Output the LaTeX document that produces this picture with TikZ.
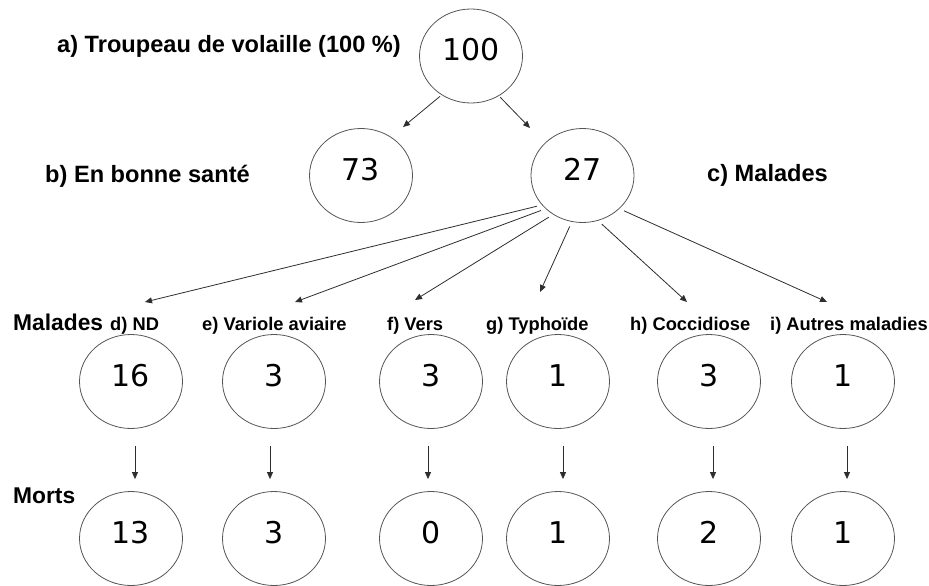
\documentclass[tikz,border=0pt]{standalone}
\usepackage{fontspec}
\setmainfont{Liberation Sans}
\newfontfamily\numfont{DejaVu Sans}
\usetikzlibrary{shapes.geometric, arrows.meta}
\definecolor{ringgray}{RGB}{85,85,85}
\definecolor{arrowgray}{RGB}{45,45,45}

\begin{document}
\begin{tikzpicture}[x=1pt, y=-1pt,
  ring/.style={draw=ringgray, ellipse, line width=0.8pt, minimum width=103pt, minimum height=94pt,
    inner sep=0pt, font=\numfont\fontsize{30}{30}\selectfont, text height=21pt, text depth=12pt},
  bigtxt/.style={anchor=base west, inner sep=0pt, font=\bfseries\fontsize{23.6}{26}\selectfont},
  rowtxt/.style={anchor=base west, inner sep=0pt, font=\bfseries\fontsize{22.8}{26}\selectfont},
  smalltxt/.style={anchor=base west, inner sep=0pt, font=\bfseries\fontsize{18.3}{21}\selectfont},
  arr/.style={draw=arrowgray, line width=0.8pt, -{Triangle[length=7pt, width=6pt]}}]
\useasboundingbox (0,0) rectangle (929,586);

% flock, healthy, sick
\node[ring] (c100) at (471,56) {100};
\node[ring] (c73) at (361,175.5) {73};
\node[ring] (c27) at (582.5,175.5) {27};
\node[bigtxt] (la) at (57,53) {a) Troupeau de volaille (100 \%)};
\node[bigtxt] (lb) at (45,182) {b) En bonne santé};
\node[bigtxt] (lc) at (707,181) {c) Malades};
\coordinate (t73) at (403,127);
\coordinate (t27) at (530,128);
\draw[arr, shorten <=2pt] (c100.233) -- (t73);
\draw[arr, shorten <=2pt] (c100.305) -- (t27);

% sick / dead per disease
\node[rowtxt] (lsick) at (13,330) {Malades};
\node[rowtxt] (ldead) at (13,503) {Morts};
\foreach \n/\x/\a/\b in {D/131/16/13, E/274/3/3, F/431/3/0, G/558/1/1, H/709/3/2, I/843/1/1} {
  \node[ring] (m\n) at (\x,381.5) {\a};
  \node[ring] (k\n) at (\x,538.5) {\b};
}
\node[smalltxt] (lD) at (110,330) {d) ND};
\node[smalltxt] (lE) at (202,330) {e) Variole aviaire};
\node[smalltxt] (lF) at (387,330) {f) Vers};
\node[smalltxt] (lG) at (486,330) {g) Typhoïde};
\node[smalltxt] (lH) at (630,330) {h) Coccidiose};
\node[smalltxt] (lI) at (770,330) {i) Autres maladies};

\foreach \n/\ang/\tx/\ty in {D/216/145/302, E/222/295/302, F/233/415/300, G/257/540/292, H/289/687/302, I/318/827/302} {
  \coordinate (t\n) at (\tx,\ty);
  \draw[arr, shorten <=5pt] (c27.\ang) -- (t\n);
}
\foreach \n/\dx in {D/4, E/-4, F/-3, G/5, H/4, I/4}
  \draw[arr, shorten <=17pt, shorten >=12pt] ([xshift=\dx pt]m\n.south) -- ([xshift=\dx pt]k\n.north);
\end{tikzpicture}
\end{document}
